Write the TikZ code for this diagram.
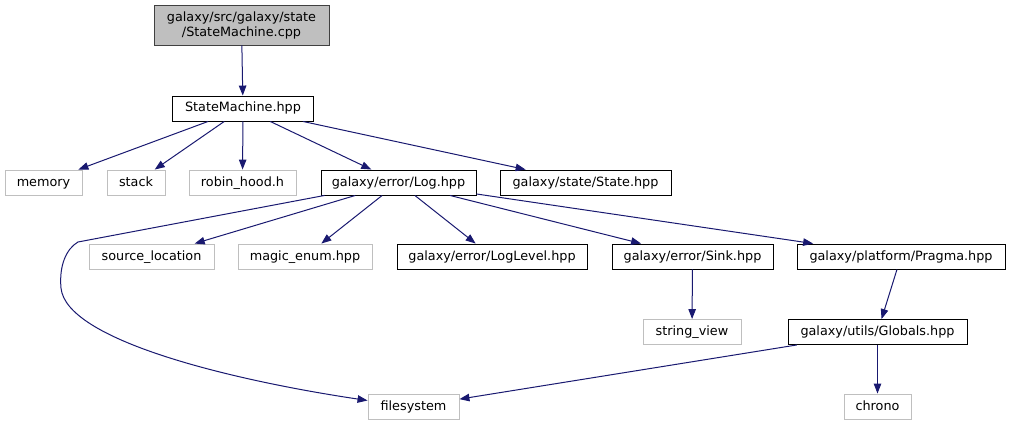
\documentclass[tikz,border=0pt]{standalone}
\usepackage{fontspec}
\setmainfont{DejaVu Sans}
\usetikzlibrary{arrows.meta}
\definecolor{edgecol}{HTML}{191970}
\definecolor{grayb}{HTML}{BFBFBF}
\tikzset{
  box/.style={draw=black, line width=0.9pt, fill=white, minimum height=25pt, inner sep=0pt, text height=9.6pt, text depth=2.6pt, font=\fontsize{12.8}{15}\selectfont},
  extbox/.style={box, draw=grayb},
  topbox/.style={draw=black!75, line width=0.9pt, fill=grayb, minimum height=40pt, inner sep=0pt, align=center, font=\fontsize{12.8}{15}\selectfont},
  edge/.style={draw=edgecol, line width=1pt, -{Triangle[length=10pt,width=7.5pt]}},
}
\begin{document}
\begin{tikzpicture}[x=1pt,y=-1pt]
\useasboundingbox (0,0) rectangle (1011,425);
\node[topbox, minimum width=175pt] (top) at (241.5,25) {galaxy/src/galaxy/state\\/StateMachine.cpp};
\node[box, minimum width=141pt] (sm) at (243,108.5) {StateMachine.hpp};
\node[extbox, minimum width=77pt] (memory) at (43.5,182.5) {memory};
\node[extbox, minimum width=58pt] (stack) at (136,182.5) {stack};
\node[extbox, minimum width=107pt] (robin) at (242.5,182.5) {robin\_hood.h};
\node[box, minimum width=155pt] (log) at (398.5,182.5) {galaxy/error/Log.hpp};
\node[box, minimum width=171pt] (state) at (585.5,182.5) {galaxy/state/State.hpp};
\node[extbox, minimum width=125pt] (srcloc) at (151.5,256.5) {source\_location};
\node[extbox, minimum width=134pt] (magic) at (305,256.5) {magic\_enum.hpp};
\node[box, minimum width=190pt] (loglevel) at (492,256.5) {galaxy/error/LogLevel.hpp};
\node[box, minimum width=161pt] (sink) at (692.5,256.5) {galaxy/error/Sink.hpp};
\node[box, minimum width=208pt] (pragma) at (901,256.5) {galaxy/platform/Pragma.hpp};
\node[extbox, minimum width=98pt] (strview) at (692,332) {string\_view};
\node[box, minimum width=179pt] (globals) at (877.5,332) {galaxy/utils/Globals.hpp};
\node[extbox, minimum width=91pt] (fs) at (413.5,406.5) {filesystem};
\node[extbox, minimum width=67pt] (chrono) at (877.5,406.5) {chrono};
\coordinate (bend1) at (78,242);
\coordinate (bend2) at (61,288);

\draw[edge] (top) -- (sm);
\draw[edge] (sm) -- (memory);
\draw[edge] (sm) -- (stack);
\draw[edge] (sm) -- (robin);
\draw[edge] (sm) -- (log);
\draw[edge] (sm) -- (state);
\draw[edge] ([xshift=4pt]log.south west) -- (bend1) .. controls (66,249) and (59,266) .. (bend2) .. controls (66,340) and (230,380) .. ([yshift=6pt]fs.west);
\draw[edge] (log) -- (srcloc);
\draw[edge] (log) -- (magic);
\draw[edge] (log) -- (loglevel);
\draw[edge] (log) -- (sink);
\draw[edge] (log) -- (pragma);
\draw[edge] (sink) -- (strview);
\draw[edge] (pragma) -- (globals);
\draw[edge] (globals) -- (fs);
\draw[edge] (globals) -- (chrono);
\end{tikzpicture}
\end{document}
